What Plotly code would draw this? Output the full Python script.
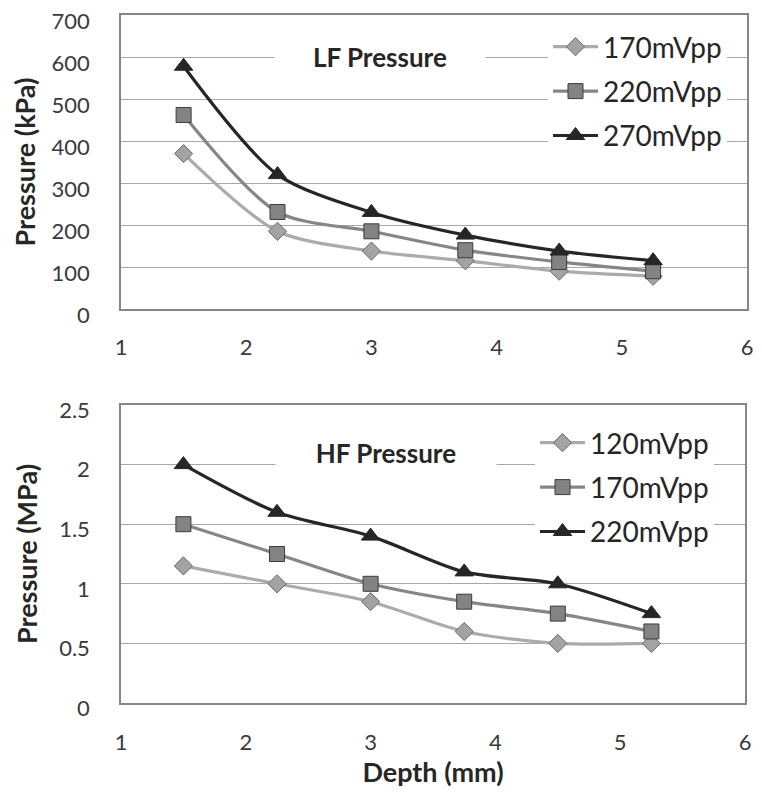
import plotly.graph_objects as go

depth = [1.5, 2.25, 3.0, 3.75, 4.5, 5.25]

lf_names = ["170mVpp", "220mVpp", "270mVpp"]
lf_170 = [370, 185, 138, 115, 90, 78]
lf_220 = [462, 231, 185, 140, 112, 90]
lf_270 = [578, 320, 230, 176, 138, 115]

hf_names = ["120mVpp", "170mVpp", "220mVpp"]
hf_120 = [1.15, 1.0, 0.85, 0.6, 0.5, 0.5]
hf_170 = [1.5, 1.25, 1.0, 0.85, 0.75, 0.6]
hf_220 = [2.0, 1.6, 1.4, 1.1, 1.0, 0.75]

FONT = "Lato"
styles = [
    dict(line_color="#ababab", symbol="diamond", fill="#a3a3a3", edge="#6a6a6a", size=14),
    dict(line_color="#868686", symbol="square", fill="#838383", edge="#3c3c3c", size=15),
    dict(line_color="#262626", symbol="triangle-up", fill="#262626", edge="#262626", size=16),
]

fig = go.Figure()

def add(xs, ys, name, st, xa, ya, legend, grp):
    fig.add_trace(go.Scatter(
        x=xs, y=ys, name=name, mode="lines+markers",
        line=dict(color=st["line_color"], width=3.2, shape="spline", smoothing=0.8),
        marker=dict(symbol=st["symbol"], size=st["size"], color=st["fill"],
                    line=dict(color=st["edge"], width=1)),
        xaxis=xa, yaxis=ya, legend=legend, legendgroup=grp,
    ))

for ys, nm, st in zip([lf_170, lf_220, lf_270], lf_names, styles):
    add(depth, ys, nm, st, "x", "y", "legend", "lf" + nm)
for ys, nm, st in zip([hf_120, hf_170, hf_220], hf_names, styles):
    add(depth, ys, nm, st, "x2", "y2", "legend2", "hf" + nm)

W, H = 762, 802
OFF = 8  # page body margin offset
L, R = 121, 747
top1, bot1 = 15, 309
top2, bot2 = 405, 703

def pdx(px):
    return (px - OFF) / W

def pdy(py):
    return 1 - (py - OFF) / H

axis_common = dict(
    showline=True, mirror=True, linecolor="#868686", linewidth=1.5,
    tickfont=dict(family=FONT, size=22, color="#3a3a3a"),
    ticks="", zeroline=False, automargin=False, ticklabeloverflow="allow",
)
ytitle_font = dict(family=FONT, size=27, color="#262626")
xtitle_font = dict(family=FONT, size=27, color="#262626")

fig.update_layout(
    width=W, height=H,
    margin=dict(l=0, r=0, t=0, b=0, autoexpand=False),
    paper_bgcolor="white", plot_bgcolor="white",
    font=dict(family=FONT, color="#262626"),
    xaxis=dict(domain=[pdx(L), pdx(R)], anchor="y", range=[1, 6], dtick=1,
               showgrid=False, ticklabelstandoff=18, **axis_common),
    yaxis=dict(domain=[pdy(bot1), pdy(top1)], anchor="x", range=[0, 700], dtick=100,
               showgrid=True, gridcolor="#a8a8a8", gridwidth=1, ticklabelstandoff=25,
               ticklabelshift=6,
               title=dict(text="<b>Pressure (kPa)</b>", font=ytitle_font, standoff=14),
               **axis_common),
    xaxis2=dict(domain=[pdx(L), pdx(R - 2)], anchor="y2", range=[1, 6], dtick=1,
                showgrid=False, ticklabelstandoff=19,
                title=dict(text="<b>Depth (mm)</b>", font=xtitle_font, standoff=8),
                **axis_common),
    yaxis2=dict(domain=[pdy(bot2), pdy(top2)], anchor="x2", range=[0, 2.5], dtick=0.5,
                showgrid=True, gridcolor="#a8a8a8", gridwidth=1, ticklabelstandoff=25,
                ticklabelshift=5,
                title=dict(text="<b>Pressure (MPa)</b>", font=ytitle_font, standoff=14),
                **axis_common),
    legend=dict(x=pdx(548), y=pdy(22), xanchor="left", yanchor="top",
                bgcolor="white", borderwidth=0, tracegroupgap=5, itemwidth=45,
                font=dict(family=FONT, size=28, color="#262626")),
    legend2=dict(x=pdx(535), y=pdy(418), xanchor="left", yanchor="top",
                 bgcolor="white", borderwidth=0, tracegroupgap=5, itemwidth=45,
                 font=dict(family=FONT, size=28, color="#262626")),
    showlegend=True,
)

fig.add_annotation(x=3.07, y=600, xref="x", yref="y", text="<b>LF Pressure</b>",
                   showarrow=False, bgcolor="white", width=208, height=30,
                   font=dict(family=FONT, size=26, color="#262626"))
fig.add_annotation(x=3.12, y=2.1, xref="x2", yref="y2", text="<b>HF Pressure</b>",
                   showarrow=False, bgcolor="white", width=218, height=34,
                   font=dict(family=FONT, size=26, color="#262626"))

fig.write_html("out.html")
